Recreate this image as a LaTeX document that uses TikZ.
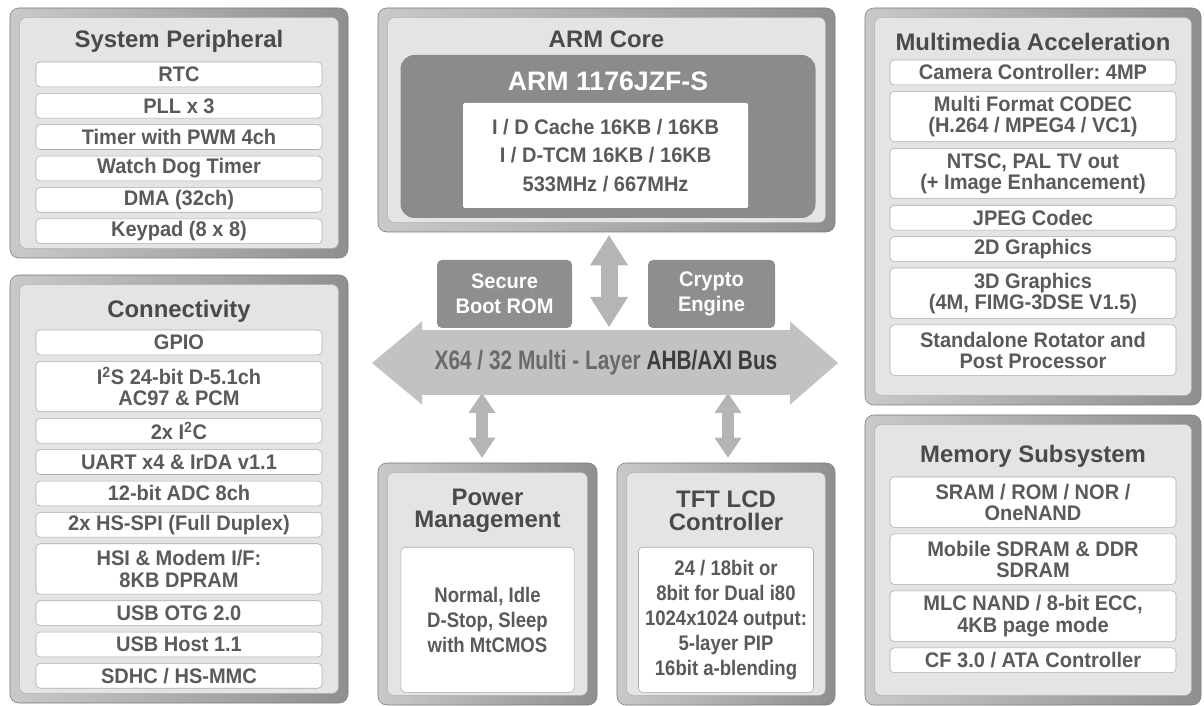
\documentclass[tikz,border=0pt]{standalone}
\usepackage{fontspec}
\setmainfont{Liberation Sans}
\newfontfamily\entryfont{Liberation Sans}[FakeStretch=0.95]
\newfontfamily\bodyfont{Liberation Sans}[FakeStretch=0.88]
\newfontfamily\busfont{Liberation Sans}[FakeStretch=0.78]
\usetikzlibrary{positioning,arrows.meta}
\frenchspacing

\definecolor{frameL}{HTML}{C9C9C9}
\definecolor{frameR}{HTML}{8F8F8F}
\definecolor{panelfill}{HTML}{E4E4E4}
\definecolor{paneledge}{HTML}{B2B2B2}
\definecolor{entryedge}{HTML}{ABABAB}
\definecolor{entrytext}{HTML}{5A5A5A}
\definecolor{headtext}{HTML}{4A4A4A}
\definecolor{coredark}{HTML}{8B8B8B}
\definecolor{blockdark}{HTML}{8E8E8E}
\definecolor{busgray}{HTML}{C2C2C2}
\definecolor{bustext}{HTML}{6A6A6A}
\definecolor{busdark}{HTML}{3C3C3C}
\definecolor{linkgray}{HTML}{B5B5B5}

\begin{document}
\begin{tikzpicture}[node distance=0.15cm,
    frame box/.style={rounded corners=0.22cm,draw=frameR!85!black,left color=frameL,right color=frameR,inner sep=0pt},
    panel box/.style={rounded corners=0.16cm,draw=paneledge,fill=panelfill,inner sep=0pt},
    head label/.style={font=\bfseries\fontsize{17}{16}\selectfont,text=headtext,align=center},
    entry/.style={draw=entryedge,fill=white,rounded corners=0.1cm,minimum width=7.15cm,minimum height=0.62cm,
                  inner sep=0pt,align=center,text=entrytext,font=\entryfont\bfseries\fontsize{15}{15}\selectfont},
    tall entry/.style={entry,minimum height=1.26cm},
    body box/.style={draw=entryedge,fill=white,rounded corners=0.1cm,inner sep=0pt,align=center,text=entrytext,
                  font=\bodyfont\bfseries\fontsize{15}{17.8}\selectfont},
    dark block/.style={fill=blockdark,rounded corners=0.12cm,inner sep=0pt,align=center,text=white,
                  font=\entryfont\bfseries\fontsize{15}{17.8}\selectfont},
    bus arrow/.style={draw=busgray,line width=1.625cm,
                  {Triangle[width=2.08cm,length=1.25cm,line width=0pt]}-{Triangle[width=2.08cm,length=1.2cm,line width=0pt]}},
    link arrow/.style={draw=linkgray,line width=0.425cm,
                  {Triangle[width=0.95cm,length=0.75cm,line width=0pt]}-{Triangle[width=0.95cm,length=0.75cm,line width=0pt]}},
    small link/.style={draw=linkgray,line width=0.3cm,
                  {Triangle[width=0.675cm,length=0.5cm,line width=0pt]}-{Triangle[width=0.675cm,length=0.5cm,line width=0pt]}}]
  \useasboundingbox (0,0) rectangle (30.1,-17.65);

  % system peripheral
  \node[frame box,minimum width=8.45cm,minimum height=6.25cm] (sysp) at (4.475,-3.325) {};
  \node[panel box,minimum width=7.97cm,minimum height=5.77cm] (sysp in) at (sysp) {};
  \node[head label] (sysp head) at ([yshift=-0.85cm]sysp.north) {System Peripheral};
  \node[entry,below=1.35cm of sysp.north] (rtc) {RTC};
  \node[entry,below=of rtc] (pll) {PLL x 3};
  \node[entry,below=of pll] (timer) {Timer with PWM 4ch};
  \node[entry,below=of timer] (wdt) {Watch Dog Timer};
  \node[entry,below=of wdt] (dma) {DMA (32ch)};
  \node[entry,below=of dma] (keypad) {Keypad (8 x 8)};

  % connectivity
  \node[frame box,minimum width=8.45cm,minimum height=10.7cm] (conn) at (4.475,-12.225) {};
  \node[panel box,minimum width=7.97cm,minimum height=10.22cm] (conn in) at (conn) {};
  \node[head label] (conn head) at ([yshift=-0.92cm]conn.north) {Connectivity};
  \node[entry,below=1.375cm of conn.north] (gpio) {GPIO};
  \node[tall entry,below=of gpio] (i2s) {I\textsuperscript{2}S 24-bit D-5.1ch\\AC97 \& PCM};
  \node[entry,below=of i2s] (i2c) {2x I\textsuperscript{2}C};
  \node[entry,below=of i2c] (uart) {UART x4 \& IrDA v1.1};
  \node[entry,below=of uart] (adc) {12-bit ADC 8ch};
  \node[entry,below=of adc] (spi) {2x HS-SPI (Full Duplex)};
  \node[tall entry,below=of spi] (hsi) {HSI \& Modem I/F:\\8KB DPRAM};
  \node[entry,below=of hsi] (otg) {USB OTG 2.0};
  \node[entry,below=of otg] (host) {USB Host 1.1};
  \node[entry,below=of host] (sdhc) {SDHC / HS-MMC};

  % arm core
  \node[frame box,minimum width=11.425cm,minimum height=5.6cm] (arm) at (15.1625,-3.0) {};
  \node[panel box,minimum width=10.945cm,minimum height=5.12cm] (arm in) at (arm) {};
  \node[head label] (arm head) at ([yshift=-0.8cm]arm.north) {ARM Core};
  \node[fill=coredark,rounded corners=0.35cm,minimum width=10.375cm,minimum height=4.075cm] (core) at (15.2,-3.4125) {};
  \node[text=white,font=\bfseries\fontsize{19}{19}\selectfont] (core name) at ([yshift=-0.675cm]core.north) {ARM 1176JZF-S};
  \node[body box,rounded corners=0.05cm,draw=none,minimum width=7.125cm,minimum height=2.625cm,
        font=\entryfont\bfseries\fontsize{15}{20.3}\selectfont] (cache) at (15.14,-3.8875)
       {I / D Cache 16KB / 16KB\\I / D-TCM 16KB / 16KB\\533MHz / 667MHz};

  % power management
  \node[frame box,minimum width=5.475cm,minimum height=6.05cm] (pwr) at (12.1875,-14.6) {};
  \node[panel box,minimum width=4.995cm,minimum height=5.57cm] (pwr in) at (pwr) {};
  \node[head label] (pwr head) at ([yshift=-1.2cm]pwr.north) {Power\\Management};
  \node[body box,minimum width=4.33cm,minimum height=3.625cm] (pwr modes) at ([yshift=2.1375cm]pwr.south)
       {Normal, Idle\\D-Stop, Sleep\\with MtCMOS};

  % tft lcd
  \node[frame box,minimum width=5.45cm,minimum height=6.05cm] (tft) at (18.15,-14.6) {};
  \node[panel box,minimum width=4.97cm,minimum height=5.57cm] (tft in) at (tft) {};
  \node[head label] (tft head) at ([yshift=-1.2cm]tft.north) {TFT LCD\\Controller};
  \node[body box,minimum width=4.375cm,minimum height=3.625cm] (tft spec) at ([yshift=2.1375cm]tft.south)
       {24 / 18bit or\\8bit for Dual i80\\1024x1024 output:\\5-layer PIP\\16bit a-blending};

  % multimedia
  \node[frame box,minimum width=8.4cm,minimum height=9.925cm] (mm) at (25.825,-5.1625) {};
  \node[panel box,minimum width=7.92cm,minimum height=9.445cm] (mm in) at (mm) {};
  \node[head label] (mm head) at ([yshift=-0.85cm]mm.north) {Multimedia Acceleration};
  \node[entry,below=1.3cm of mm.north] (cam) {Camera Controller: 4MP};
  \node[tall entry,below=of cam] (mfc) {Multi Format CODEC\\(H.264 / MPEG4 / VC1)};
  \node[tall entry,below=of mfc] (tvout) {NTSC, PAL TV out\\(+ Image Enhancement)};
  \node[entry,below=of tvout] (jpeg) {JPEG Codec};
  \node[entry,below=of jpeg] (gfx2d) {2D Graphics};
  \node[tall entry,below=of gfx2d] (gfx3d) {3D Graphics\\(4M, FIMG-3DSE V1.5)};
  \node[tall entry,below=of gfx3d] (rot) {Standalone Rotator and\\Post Processor};

  % memory
  \node[frame box,minimum width=8.4cm,minimum height=7.25cm] (mem) at (25.825,-14.0) {};
  \node[panel box,minimum width=7.92cm,minimum height=6.77cm] (mem in) at (mem) {};
  \node[head label] (mem head) at ([yshift=-1.05cm]mem.north) {Memory Subsystem};
  \node[tall entry,below=1.55cm of mem.north] (sram) {SRAM / ROM / NOR /\\OneNAND};
  \node[tall entry,below=of sram] (sdram) {Mobile SDRAM \& DDR\\SDRAM};
  \node[tall entry,below=of sdram] (nand) {MLC NAND / 8-bit ECC,\\4KB page mode};
  \node[entry,below=of nand] (cf) {CF 3.0 / ATA Controller};

  % bus
  \node[dark block,minimum width=3.375cm,minimum height=1.7cm] (boot) at (12.6125,-7.35) {Secure\\Boot ROM};
  \node[dark block,minimum width=3.175cm,minimum height=1.7cm] (crypto) at (17.7875,-7.35) {Crypto\\Engine};
  \coordinate (core bus) at (15.225,-8.175);
  \coordinate (pwr bus) at (12.05,-9.825);
  \coordinate (tft bus) at (18.2,-9.825);
  \coordinate (bus west) at (9.3,-9.075);
  \coordinate (bus east) at (20.95,-9.075);
  \draw[link arrow,shorten <=0.075cm] (arm.south -| core bus) -- (core bus);
  \draw[small link,shorten >=0.125cm] (pwr bus) -- (pwr.north -| pwr bus);
  \draw[small link,shorten >=0.125cm] (tft bus) -- (tft.north -| tft bus);
  \draw[bus arrow] (bus west) -- (bus east);
  \node[text=bustext,font=\busfont\bfseries\fontsize{19}{19}\selectfont] (bus) at (15.15,-9.075)
       {X64 / 32 Multi - Layer {\color{busdark}AHB/AXI Bus}};
\end{tikzpicture}
\end{document}
